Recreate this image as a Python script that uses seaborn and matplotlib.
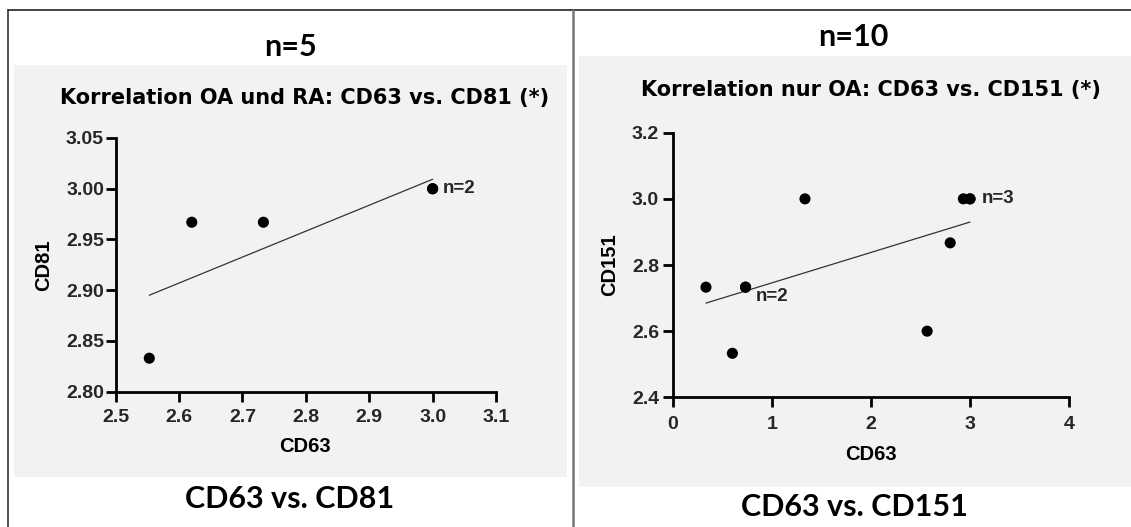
import matplotlib
matplotlib.use("Agg")
import matplotlib.pyplot as plt
import seaborn as sns
import numpy as np
import pandas as pd
from matplotlib.patches import Rectangle
from matplotlib.lines import Line2D

# ---------------- data ----------------
left_cd63 = [2.553, 2.620, 2.733, 3.000, 3.000]
left_cd81 = [2.833, 2.967, 2.967, 3.000, 3.000]
left_xticks = [2.5, 2.6, 2.7, 2.8, 2.9, 3.0, 3.1]
left_yticks = [2.80, 2.85, 2.90, 2.95, 3.00, 3.05]

right_cd63 = [0.333, 0.600, 0.733, 0.733, 1.333, 2.567, 2.800, 2.933, 3.000, 3.000]
right_cd151 = [2.733, 2.533, 2.733, 2.733, 3.000, 2.600, 2.867, 3.000, 3.000, 3.000]
right_xticks = [0, 1, 2, 3, 4]
right_yticks = [2.4, 2.6, 2.8, 3.0, 3.2]

left_header = "n=5"
left_footer = "CD63 vs. CD81"
left_title = "Korrelation OA und RA: CD63 vs. CD81 (*)"
right_header = "n=10"
right_footer = "CD63 vs. CD151"
right_title = "Korrelation nur OA: CD63 vs. CD151 (*)"

df_left = pd.DataFrame({"CD63": left_cd63, "CD81": left_cd81})
df_right = pd.DataFrame({"CD63": right_cd63, "CD151": right_cd151})

# ---------------- style ----------------
sns.set_theme(style="ticks")
plt.rcParams["font.family"] = ["Liberation Sans", "DejaVu Sans"]

W, H = 1131, 527
fig = plt.figure(figsize=(W / 100, H / 100), dpi=100)
fig.patch.set_facecolor("white")

def fx(px):
    return px / W

def fy(py):
    return 1 - py / H

# gray panels
fig.add_artist(Rectangle((fx(14), fy(477)), fx(567) - fx(14), fy(65) - fy(477),
                         transform=fig.transFigure, facecolor="#f2f2f2",
                         edgecolor="none", zorder=-5))
fig.add_artist(Rectangle((fx(579), fy(487)), fx(1131) - fx(579), fy(56) - fy(487),
                         transform=fig.transFigure, facecolor="#f2f2f2",
                         edgecolor="none", zorder=-5))

# frame lines
fig.add_artist(Line2D([fx(8), fx(8)], [fy(10), fy(527)], transform=fig.transFigure,
                      color="#333333", lw=1.2, zorder=-4))
fig.add_artist(Line2D([fx(8), fx(1131)], [fy(10), fy(10)], transform=fig.transFigure,
                      color="#222222", lw=1.2, zorder=-4))
fig.add_artist(Line2D([fx(573), fx(573)], [fy(10), fy(527)], transform=fig.transFigure,
                      color="#777777", lw=1.8, zorder=-4))

# headers / footers
hdr_font = dict(family=["Lato", "DejaVu Sans"], fontsize=22, fontweight="bold",
                color="black", ha="center", va="center")
fig.text(fx(291), fy(47), left_header, **hdr_font)
fig.text(fx(290), fy(499), left_footer, **hdr_font)
fig.text(fx(853), fy(37), right_header, **hdr_font)
fig.text(fx(854), fy(507), right_footer, **hdr_font)

title_font = dict(family=["DejaVu Sans"], fontsize=15, fontweight="bold",
                  color="black", ha="center", va="center")
fig.text(fx(305), fy(98), left_title, **title_font)
fig.text(fx(871), fy(90), right_title, **title_font)

def style_axes(ax, xpad, ypad):
    ax.set_facecolor("none")
    sns.despine(ax=ax)
    for s in ["left", "bottom"]:
        ax.spines[s].set_linewidth(2.0)
        ax.spines[s].set_color("black")
    ax.tick_params(axis="both", which="major", length=7, width=2.0,
                   color="black", labelsize=14)
    ax.tick_params(axis="x", pad=xpad)
    ax.tick_params(axis="y", pad=ypad)
    for lab in ax.get_xticklabels() + ax.get_yticklabels():
        lab.set_fontweight("bold")
    ax.grid(False)

scatter_kws = dict(s=64, color="black", edgecolor="none", alpha=1, zorder=3, clip_on=False)
line_kws = dict(color="#333333", lw=0.9, zorder=2)

# ---------------- left plot ----------------
axL = fig.add_axes([fx(115.7), fy(391.7), fx(496) - fx(115.7), fy(138) - fy(391.7)])
sns.regplot(data=df_left, x="CD63", y="CD81", ax=axL, ci=None,
            scatter_kws=scatter_kws, line_kws=line_kws)
axL.set_xlim(2.5, 3.1)
axL.set_ylim(2.80, 3.05)
axL.set_xticks(left_xticks)
axL.set_yticks(left_yticks)
axL.set_xticklabels([f"{v:.1f}" for v in left_xticks])
axL.set_yticklabels([f"{v:.2f}" for v in left_yticks])
style_axes(axL, xpad=5.5, ypad=1.5)
axL.set_xlabel("CD63", fontsize=14.5, fontweight="bold", color="black")
axL.set_ylabel("CD81", fontsize=14.5, fontweight="bold", color="black")
axL.xaxis.set_label_coords((305 - 115.7) / 380.3, (391.7 - 447) / 253.7)
axL.xaxis.label.set_va("center")
axL.yaxis.set_label_coords((44 - 115.7) / 380.3, (391.7 - 265) / 253.7)
axL.yaxis.label.set_va("center")
axL.annotate("n=2", xy=(left_cd63[3], left_cd81[3]), xytext=(7.5, 0),
             textcoords="offset points", ha="left", va="center",
             fontsize=13.5, fontweight="bold")

# ---------------- right plot ----------------
axR = fig.add_axes([fx(673), fy(397.3), fx(1069) - fx(673), fy(132.7) - fy(397.3)])
sns.regplot(data=df_right, x="CD63", y="CD151", ax=axR, ci=None,
            scatter_kws=scatter_kws, line_kws=line_kws)
axR.set_xlim(0, 4)
axR.set_ylim(2.4, 3.2)
axR.set_xticks(right_xticks)
axR.set_yticks(right_yticks)
axR.set_xticklabels([f"{v:d}" for v in right_xticks])
axR.set_yticklabels([f"{v:.1f}" for v in right_yticks])
style_axes(axR, xpad=6.5, ypad=3)
axR.set_xlabel("CD63", fontsize=14.5, fontweight="bold", color="black")
axR.set_ylabel("CD151", fontsize=14.5, fontweight="bold", color="black")
axR.xaxis.set_label_coords((871 - 673) / 396, (397.3 - 455) / 264.6)
axR.xaxis.label.set_va("center")
axR.yaxis.set_label_coords((610 - 673) / 396, (397.3 - 265) / 264.6)
axR.yaxis.label.set_va("center")
axR.annotate("n=2", xy=(right_cd63[3], right_cd151[3]), xytext=(7.5, -7),
             textcoords="offset points", ha="left", va="center",
             fontsize=13.5, fontweight="bold")
axR.annotate("n=3", xy=(right_cd63[-1], right_cd151[-1]), xytext=(8.5, 0),
             textcoords="offset points", ha="left", va="center",
             fontsize=13.5, fontweight="bold")

fig.savefig("out.png", dpi=100)
